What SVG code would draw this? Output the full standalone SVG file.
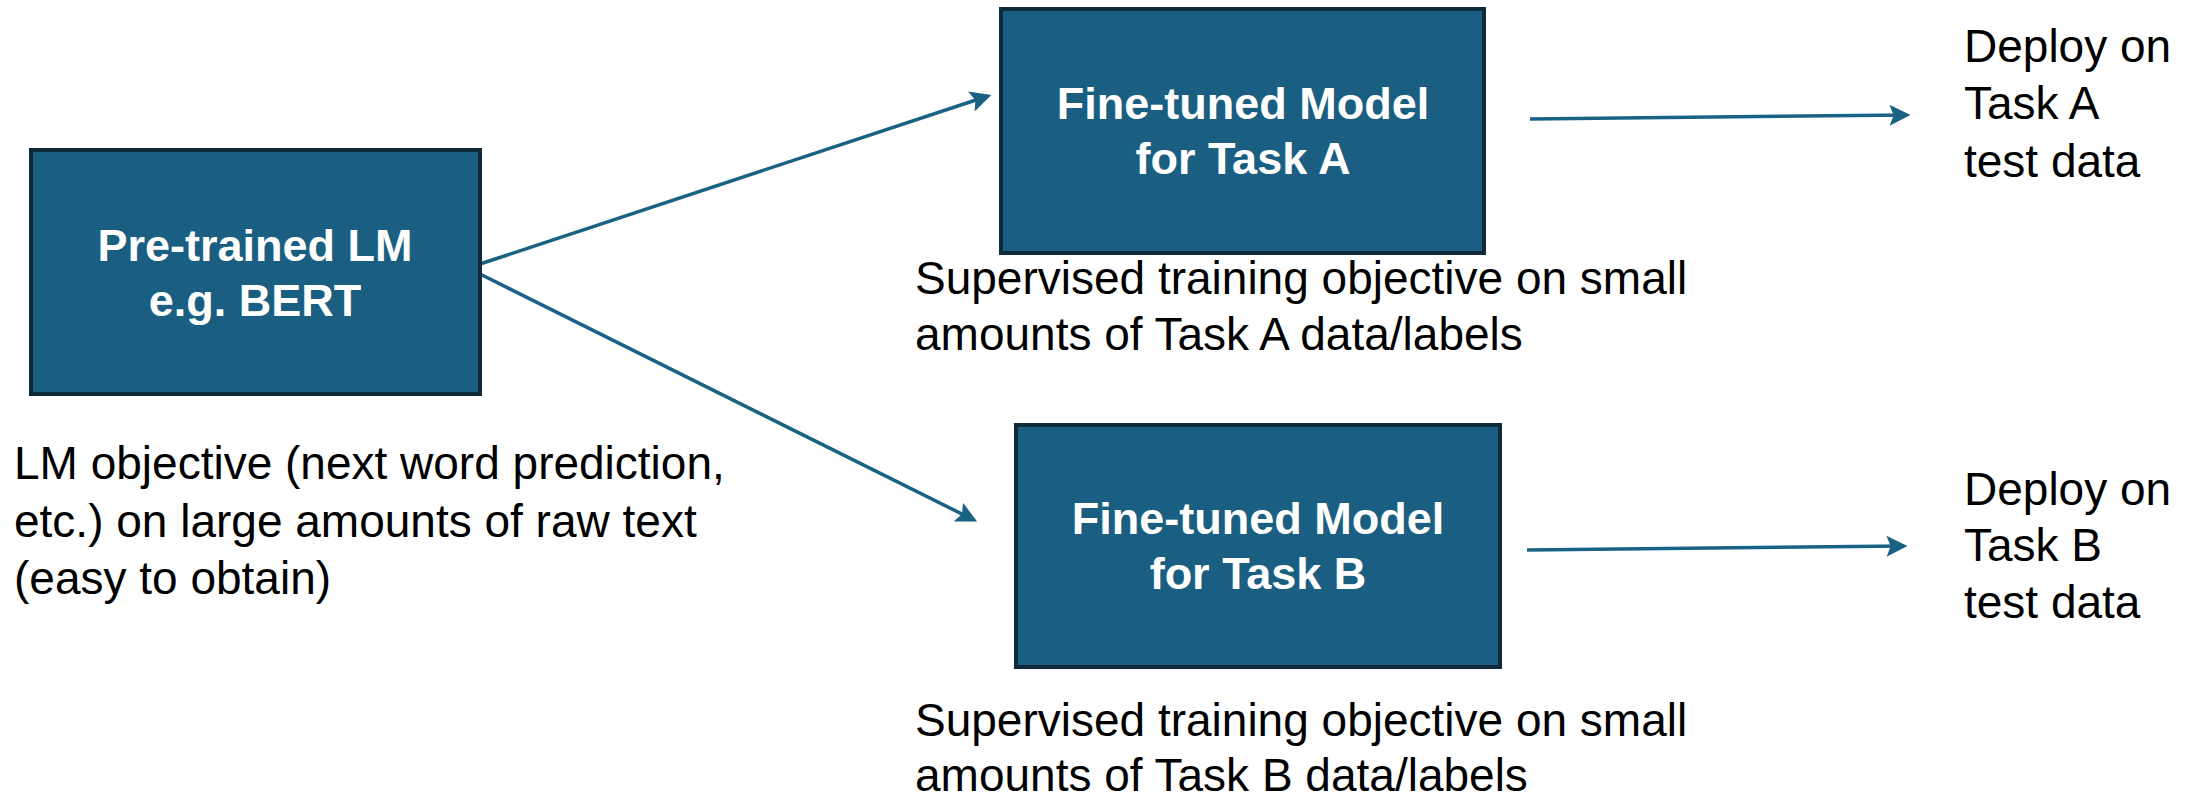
<svg xmlns="http://www.w3.org/2000/svg" width="2200" height="797" viewBox="0 0 2200 797">
<style>
.box{fill:#1a5f81;stroke:#0e2a3b;stroke-width:4}
.bt{font-family:"Liberation Sans",Arial,sans-serif;font-weight:bold;font-size:45px;fill:#ffffff;text-anchor:middle}
.lt{font-family:"Liberation Sans",Arial,sans-serif;font-size:46px;fill:#000000}
.conn{stroke:#1a6283;stroke-width:3.5;fill:none}
</style>
<defs>
<marker id="ah" markerWidth="6" markerHeight="6" refX="5" refY="3" orient="auto" markerUnits="strokeWidth">
<path d="M0,0 L6,3 L0,6 L1.2,3 Z" fill="#1a6283"/>
</marker>
</defs>
<rect width="2200" height="797" fill="#ffffff"/>
<g id="connectors">
<line class="conn" x1="480" y1="264" x2="988" y2="96" marker-end="url(#ah)"/>
<line class="conn" x1="480" y1="274" x2="974" y2="520" marker-end="url(#ah)"/>
<line class="conn" x1="1530" y1="119" x2="1907" y2="115" marker-end="url(#ah)"/>
<line class="conn" x1="1527" y1="550" x2="1904" y2="546" marker-end="url(#ah)"/>
</g>
<g id="pretrained">
<rect class="box" x="31" y="150" width="449" height="244"/>
<text class="bt" x="255" y="261">Pre-trained LM</text>
<text class="bt" x="255" y="316">e.g. BERT</text>
</g>
<g id="finetunedA">
<rect class="box" x="1001" y="9" width="483" height="244"/>
<text class="bt" x="1243" y="119">Fine-tuned Model</text>
<text class="bt" x="1243" y="174">for Task A</text>
</g>
<g id="finetunedB">
<rect class="box" x="1016" y="425" width="484" height="242"/>
<text class="bt" x="1258" y="534">Fine-tuned Model</text>
<text class="bt" x="1258" y="589">for Task B</text>
</g>
<g id="lm-objective">
<text class="lt" x="14" y="479">LM objective (next word prediction,</text>
<text class="lt" x="14" y="537">etc.) on large amounts of raw text</text>
<text class="lt" x="14" y="594">(easy to obtain)</text>
</g>
<g id="supervisedA">
<text class="lt" x="915" y="294">Supervised training objective on small</text>
<text class="lt" x="915" y="350">amounts of Task A data/labels</text>
</g>
<g id="supervisedB">
<text class="lt" x="915" y="736">Supervised training objective on small</text>
<text class="lt" x="915" y="791">amounts of Task B data/labels</text>
</g>
<g id="deployA">
<text class="lt" x="1964" y="62">Deploy on</text>
<text class="lt" x="1964" y="119">Task A</text>
<text class="lt" x="1964" y="177">test data</text>
</g>
<g id="deployB">
<text class="lt" x="1964" y="505">Deploy on</text>
<text class="lt" x="1964" y="561">Task B</text>
<text class="lt" x="1964" y="618">test data</text>
</g>
</svg>
